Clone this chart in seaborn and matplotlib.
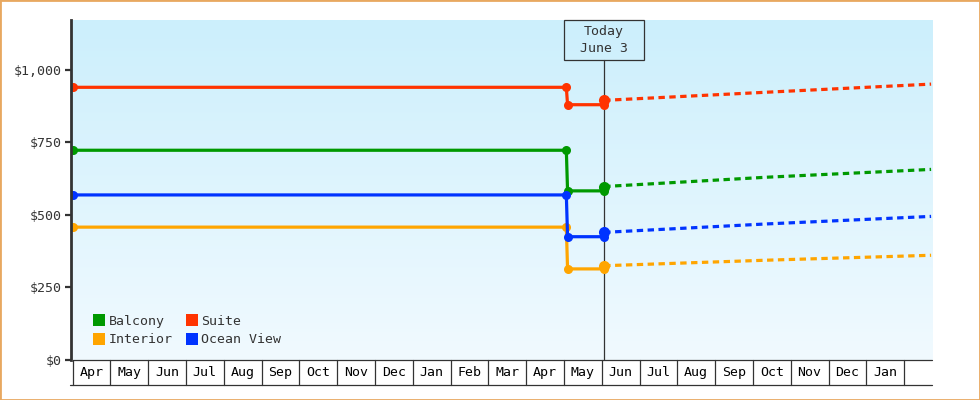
import numpy as np
import pandas as pd
import matplotlib
matplotlib.use("Agg")
import matplotlib.pyplot as plt
from matplotlib.patches import Rectangle
from matplotlib.lines import Line2D
import matplotlib.transforms as mtransforms
import seaborn as sns

# ---------------- data ----------------
month_labels = ["Apr", "May", "Jun", "Jul", "Aug", "Sep", "Oct", "Nov", "Dec", "Jan", "Feb",
                "Mar", "Apr", "May", "Jun", "Jul", "Aug", "Sep", "Oct", "Nov", "Dec", "Jan"]
series_names = ["Balcony", "Interior", "Suite", "Ocean View"]
series_colors = ["#009900", "#ffa500", "#ff3300", "#0033ff"]

hist_dates = ["2023-04-01", "2024-05-03", "2024-05-04", "2024-06-03"]
balcony_hist = [723, 723, 583, 583]
interior_hist = [458, 458, 314, 314]
suite_hist = [940, 940, 880, 880]
ocean_hist = [569, 569, 425, 425]

proj_dates = ["2024-06-03", "2024-10-12", "2025-02-21"]
balcony_proj = [598, 630, 657]
interior_proj = [325, 344, 361]
suite_proj = [895, 923, 951]
ocean_proj = [440, 469, 495]

today_date = "2024-06-03"
today_label = "Today\nJune 3"
y_ticks = [0, 250, 500, 750, 1000]
y_tick_labels = ["$0", "$250", "$500", "$750", "$1,000"]

hist_values = [balcony_hist, interior_hist, suite_hist, ocean_hist]
proj_values = [balcony_proj, interior_proj, suite_proj, ocean_proj]


def month_pos(d):
    d = pd.Timestamp(d)
    return (d.year - 2023) * 12 + (d.month - 4) + (d.day - 1) / d.days_in_month


# ---------------- styling ----------------
sns.set_style("white")
plt.rcParams["font.family"] = ["DejaVu Sans Mono", "DejaVu Sans"]
FS = 9.5
DARK = "#333333"

fig = plt.figure(figsize=(9.8, 4), dpi=100)
fig.patch.set_facecolor("white")
ax = fig.add_axes([71 / 980, 40 / 400, (932 - 71) / 980, 340 / 400])

X0, W = 72.5, 37.8
xmin, xmax = (71 - X0) / W, (932 - X0) / W
ymin, ymax = 0, 1172

# gradient background
top = np.array([204, 239, 252]) / 255
bot = np.array([241, 250, 255]) / 255
t = np.linspace(0, 1, 256)[:, None]
grad = (top[None, :] * (1 - t) + bot[None, :] * t)[:, None, :]
ax.imshow(grad, extent=(0, 1, 0, 1), transform=ax.transAxes, aspect="auto",
          zorder=0, interpolation="bilinear")

# lines
for name, col, hv, pv in zip(series_names, series_colors, hist_values, proj_values):
    hdf = pd.DataFrame({"x": [month_pos(d) for d in hist_dates], "y": hv})
    pdf = pd.DataFrame({"x": [month_pos(d) for d in proj_dates], "y": pv})
    sns.lineplot(data=hdf, x="x", y="y", ax=ax, color=col, lw=2.3, marker="o",
                 markersize=6.5, markeredgewidth=0, estimator=None, sort=False,
                 zorder=4, legend=False)
    sns.lineplot(data=pdf, x="x", y="y", ax=ax, color=col, lw=2.3,
                 linestyle=(0, (2, 1.4)), estimator=None, sort=False, zorder=3,
                 marker="o", markersize=8, markeredgewidth=0, markevery=[0],
                 legend=False)

# today marker
tx = month_pos(today_date)
box_top_ax = (360 - 60) / 340
ax.axvline(tx, ymin=0, ymax=box_top_ax, color=DARK, lw=0.9, zorder=2)
trans = mtransforms.blended_transform_factory(ax.transData, ax.transAxes)
bw = 80 / W
ax.add_patch(Rectangle((tx - bw / 2, box_top_ax), bw, 1 - box_top_ax, transform=trans,
                       fill=False, ec=DARK, lw=0.9, clip_on=False, zorder=5))
ax.text(tx, (box_top_ax + 1) / 2, today_label, transform=trans, ha="center",
        va="center", fontsize=FS, color=DARK, linespacing=1.45, zorder=6)

# month cells under the axis
cell_bot = -25 / 340
ax.plot([(73 - X0) / W, xmax], [0, 0], transform=trans, color=DARK, lw=0.9,
        clip_on=False, zorder=5)
ax.plot([(70 - X0) / W, xmax], [cell_bot, cell_bot], transform=trans, color=DARK,
        lw=0.9, clip_on=False, zorder=5)
for k in range(len(month_labels) + 1):
    ax.plot([k, k], [0, cell_bot], transform=trans, color=DARK, lw=0.9,
            clip_on=False, zorder=5)
for k, lab in enumerate(month_labels):
    ax.text(k + 0.5, cell_bot / 2, lab, transform=trans, ha="center", va="center",
            fontsize=FS, color="black", clip_on=False)

# axes
ax.set_xlim(xmin, xmax)
ax.set_ylim(ymin, ymax)
ax.set_xticks([])
ax.set_yticks(y_ticks)
ax.set_yticklabels(y_tick_labels)
ax.tick_params(axis="y", length=4, width=1.6, color=DARK, labelsize=FS,
               labelcolor=DARK, pad=3, left=True)
ax.set_xlabel("")
ax.set_ylabel("")
for s in ["top", "right", "bottom"]:
    ax.spines[s].set_visible(False)
ax.spines["left"].set_color(DARK)
ax.spines["left"].set_linewidth(2.0)
ax.spines["left"].set_zorder(6)

# legend
handles = [Line2D([], [], marker="s", ls="none", color=c, markersize=8,
                  markeredgewidth=0) for c in series_colors]
leg = ax.legend(handles, series_names, ncol=2, loc="lower left",
                bbox_to_anchor=(0.023, 0.032), frameon=False, fontsize=FS,
                handlelength=0.9, handletextpad=0.25, columnspacing=1.0,
                labelspacing=0.45, borderpad=0.2, borderaxespad=0)
for txt in leg.get_texts():
    txt.set_color(DARK)

# outer border
fig.add_artist(Rectangle((0, 0), 1, 1, transform=fig.transFigure, fill=False,
                         ec="#e8a860", lw=2.0))

fig.savefig("out.png", dpi=100)
